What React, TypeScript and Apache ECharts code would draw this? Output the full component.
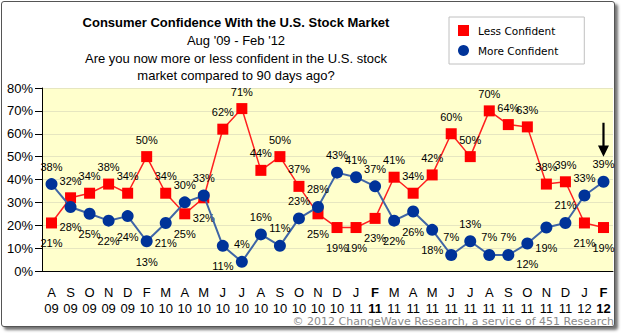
import React, { useEffect, useRef } from "react";
import * as echarts from "echarts";

const months = ["A","S","O","N","D","F","M","A","M","J","J","A","S","O","N","D","J","F","M","A","M","J","J","A","S","O","N","D","J","F"];
const years = ["09","09","09","09","09","10","10","10","10","10","10","10","10","10","10","10","11","11","11","11","11","11","11","11","11","11","11","11","12","12"];
const boldIdx = [17, 29];
const lessConfident = [21,32,34,38,34,50,34,25,32,62,71,44,50,37,25,19,19,23,41,34,42,60,50,70,64,63,38,39,21,19];
const moreConfident = [38,28,25,22,24,13,21,30,33,11,4,16,11,23,28,43,41,37,22,26,18,7,13,7,7,12,19,21,33,39];
// indices where the lower value's label sits above its marker (as in the reference)
const lowerLabelAbove = [10, 11, 12, 13, 21, 22, 23, 24, 27];
const yTicks = { min: 0, max: 80, interval: 10 };

const titleLines = [
  "Consumer Confidence With the U.S. Stock Market",
  "Aug '09 - Feb '12",
  "Are you now more or less confident in the U.S. stock",
  "market compared to 90 days ago?",
];
const copyright = "\u00A9 2012 ChangeWave Research, a service of 451 Research";

const categories = months.map((m, i) => m + "\n" + years[i]);

export default function App() {
  const ref = useRef<HTMLDivElement>(null);
  useEffect(() => {
    if (!ref.current) return;
    const chart = echarts.init(ref.current, undefined, { renderer: "svg" });
    const font = "Liberation Sans, Arial, sans-serif";
    const mkData = (a: number[], b: number[]) =>
      a.map((v, i) => {
        const above = v >= b[i] || lowerLabelAbove.includes(i);
        return {
          value: v,
          label: above ? { position: "top", distance: 6 } : { position: "bottom", distance: 9 },
        };
      });
    const lastIdx = moreConfident.length - 1;
    chart.setOption({
      animation: false,
      backgroundColor: "transparent",
      graphic: [
        ...titleLines.map((t, i) => ({
          type: "text",
          x: 236,
          y: [22, 40, 58, 75][i],
          style: {
            text: t,
            fill: "#000",
            font: (i === 0 ? "bold " : "") + "13px " + font,
            textAlign: "center",
            textVerticalAlign: "middle",
          },
        })),
        {
          type: "text",
          right: 10,
          top: 316,
          style: { text: copyright, fill: "#8a8a8a", font: "11px DejaVu Sans, Verdana, sans-serif" },
        },
      ],
      legend: {
        orient: "vertical",
        left: 449,
        top: 17,
        padding: [8, 26, 8, 9],
        itemGap: 9,
        itemWidth: 11,
        itemHeight: 11,
        borderColor: "#c0c0c0",
        borderWidth: 1,
        backgroundColor: "#fff",
        textStyle: { fontFamily: "DejaVu Sans, Verdana, sans-serif", fontSize: 10.5, color: "#000", padding: [0, 0, 0, 4] },
        data: [
          { name: "Less Confident", icon: "rect" },
          { name: "More Confident", icon: "circle" },
        ],
      },
      grid: {
        left: 42,
        right: 11,
        top: 88,
        bottom: 64,
        show: true,
        backgroundColor: "#FFFFCC",
        borderWidth: 0,
      },
      xAxis: {
        type: "category",
        data: categories,
        boundaryGap: true,
        axisLine: { lineStyle: { color: "#000", width: 1 } },
        axisTick: { alignWithLabel: true, length: 6, lineStyle: { color: "#000" } },
        axisLabel: {
          interval: 0,
          margin: 13,
          color: "#000",
          fontFamily: font,
          fontSize: 13,
          lineHeight: 16,
          formatter: (v: string, i: number) => {
            const [m, y] = v.split("\n");
            return boldIdx.includes(i) ? `{b|${m}}\n{b|${y}}` : `${m}\n${y}`;
          },
          rich: { b: { fontWeight: "bold", fontSize: 13, lineHeight: 16, fontFamily: font, color: "#000" } },
        },
      },
      yAxis: {
        type: "value",
        min: yTicks.min,
        max: yTicks.max,
        interval: yTicks.interval,
        axisLine: { show: true, lineStyle: { color: "#000", width: 1 } },
        axisTick: { show: true, length: 7, lineStyle: { color: "#000" } },
        axisLabel: { formatter: "{value}%", color: "#000", fontFamily: font, fontSize: 13, margin: 9 },
        splitLine: { lineStyle: { color: "#E6E6C0", width: 1 } },
      },
      series: [
        {
          name: "Less Confident",
          type: "line",
          data: mkData(lessConfident, moreConfident),
          symbol: "rect",
          symbolSize: 11,
          lineStyle: { color: "#FF2020", width: 1.5 },
          itemStyle: { color: "#FF0000" },
          label: { show: true, formatter: "{c}%", color: "#000", fontFamily: font, fontSize: 11 },
          z: 3,
        },
        {
          name: "More Confident",
          type: "line",
          data: mkData(moreConfident, lessConfident),
          symbol: "circle",
          symbolSize: 12,
          lineStyle: { color: "#3F65A6", width: 2 },
          itemStyle: { color: "#003399" },
          label: { show: true, formatter: "{c}%", color: "#000", fontFamily: font, fontSize: 11 },
          z: 4,
          markPoint: {
            symbol: "path://M4,0L6,0L6,22L10,22L5,33L0,22L4,22Z",
            symbolSize: [11, 34],
            symbolOffset: [0, -42],
            itemStyle: { color: "#000" },
            label: { show: false },
            data: [{ coord: [lastIdx, moreConfident[lastIdx]] }],
          },
        },
      ],
    });
    return () => chart.dispose();
  }, []);
  return (
    <div style={{ position: "fixed", left: 0, top: 0, width: 624, height: 335, background: "#fff" }}>
      <div
        style={{
          position: "absolute",
          left: 1,
          top: 1,
          width: 612,
          height: 324,
          border: "1px solid #555",
          borderRadius: 3,
          boxShadow: "3px 3px 3px rgba(0,0,0,0.55)",
          background: "#fff",
        }}
      />
      <div ref={ref} style={{ position: "absolute", left: 0, top: 0, width: 624, height: 335 }} />
    </div>
  );
}
